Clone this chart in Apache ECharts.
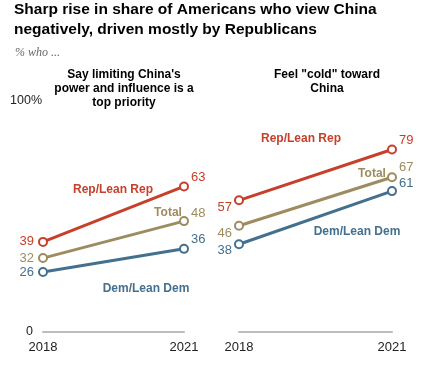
<!DOCTYPE html>
<html><head><meta charset="utf-8">
<script src="https://cdn.jsdelivr.net/npm/echarts@6/dist/echarts.min.js"></script>
<style>html,body{margin:0;padding:0;background:#fff}#c{width:427px;height:367px}</style>
</head><body><div id="c"></div>
<script>
const years = ['2018', '2021'];
const limitRep = [39, 63];
const limitTotal = [32, 48];
const limitDem = [26, 36];
const coldRep = [57, 79];
const coldTotal = [46, 67];
const coldDem = [38, 61];
const yTicks = [0, 100];

const RED = '#c6402b', TAN = '#9c8c5f', BLUE = '#44708f';
const chart = echarts.init(document.getElementById('c'));

function mk(name, data, color, xi, lab) {
  return {
    type: 'line', name: name, xAxisIndex: xi, yAxisIndex: xi,
    symbol: 'circle', symbolSize: 8, showSymbol: true,
    lineStyle: { color: color, width: 3 },
    itemStyle: { color: '#fff', borderColor: color, borderWidth: 2 },
    z: 3,
    data: data.map((v, i) => ({
      value: v,
      label: {
        show: true, color: color, fontSize: 13, fontFamily: 'Liberation Sans',
        position: lab[i].p, offset: lab[i].o, distance: 4
      }
    }))
  };
}

chart.setOption({
  animation: false,
  title: [
    { text: 'Sharp rise in share of Americans who view China\nnegatively, driven mostly by Republicans',
      left: 9, top: -5,
      textStyle: { fontFamily: 'Liberation Sans', fontWeight: 'bold', fontSize: 15.5, lineHeight: 19.5, color: '#000' } },
    { text: '% who ...', left: 10, top: 42,
      textStyle: { fontFamily: 'Liberation Serif', fontStyle: 'italic', fontWeight: 'normal', fontSize: 12, color: '#666' } }
  ],
  grid: [
    { left: 43, right: 243, top: 101, bottom: 35 },
    { left: 239, right: 35, top: 101, bottom: 35 }
  ],
  xAxis: [0, 1].map(i => ({
    type: 'category', gridIndex: i, data: years, boundaryGap: false,
    axisLine: { lineStyle: { color: '#bdbdbd', width: 2 } },
    axisTick: { show: false },
    axisLabel: { color: '#222', fontSize: 13, fontFamily: 'Liberation Sans', margin: 9 }
  })),
  yAxis: [0, 1].map(i => ({
    type: 'value', gridIndex: i, min: yTicks[0], max: yTicks[1], interval: 100,
    splitLine: { show: false }, axisLine: { show: false }, axisTick: { show: false },
    axisLabel: {
      show: i === 0, fontSize: 12.5, fontFamily: 'Liberation Sans', color: '#222', margin: 1,
      formatter: v => v === 100 ? '100%' : '{z|' + v + '}',
      rich: { z: { padding: [0, 9, 0, 0], fontSize: 12.5, fontFamily: 'Liberation Sans', color: '#222' } }
    }
  })),
  series: [
    mk('Rep/Lean Rep', limitRep, RED, 0, [{ p: 'left', o: [0, 0] }, { p: 'right', o: [-2, -9] }]),
    mk('Total', limitTotal, TAN, 0, [{ p: 'left', o: [0, 0] }, { p: 'right', o: [-2, -8] }]),
    mk('Dem/Lean Dem', limitDem, BLUE, 0, [{ p: 'left', o: [0, 0] }, { p: 'right', o: [-2, -9] }]),
    mk('Rep/Lean Rep', coldRep, RED, 1, [{ p: 'left', o: [2, 7] }, { p: 'right', o: [-2, -9] }]),
    mk('Total', coldTotal, TAN, 1, [{ p: 'left', o: [2, 8] }, { p: 'right', o: [-2, -10] }]),
    mk('Dem/Lean Dem', coldDem, BLUE, 1, [{ p: 'left', o: [2, 6] }, { p: 'right', o: [-2, -8] }])
  ],
  graphic: [
    { type: 'text', x: 124, y: 68, style: { text: "Say limiting China's\npower and influence is a\ntop priority", align: 'center', font: 'bold 12px "Liberation Sans"', lineHeight: 14, fill: '#000' } },
    { type: 'text', x: 327, y: 68, style: { text: 'Feel "cold" toward\nChina', align: 'center', font: 'bold 12px "Liberation Sans"', lineHeight: 14, fill: '#000' } },
    { type: 'text', x: 113, y: 190, style: { text: 'Rep/Lean Rep', align: 'center', verticalAlign: 'middle', font: 'bold 12px "Liberation Sans"', fill: RED } },
    { type: 'text', x: 168, y: 213, style: { text: 'Total', align: 'center', verticalAlign: 'middle', font: 'bold 12px "Liberation Sans"', fill: TAN } },
    { type: 'text', x: 146, y: 289, style: { text: 'Dem/Lean Dem', align: 'center', verticalAlign: 'middle', font: 'bold 12px "Liberation Sans"', fill: BLUE } },
    { type: 'text', x: 301, y: 139, style: { text: 'Rep/Lean Rep', align: 'center', verticalAlign: 'middle', font: 'bold 12px "Liberation Sans"', fill: RED } },
    { type: 'text', x: 372, y: 174, style: { text: 'Total', align: 'center', verticalAlign: 'middle', font: 'bold 12px "Liberation Sans"', fill: TAN } },
    { type: 'text', x: 357, y: 232, style: { text: 'Dem/Lean Dem', align: 'center', verticalAlign: 'middle', font: 'bold 12px "Liberation Sans"', fill: BLUE } }
  ]
});
</script></body></html>
